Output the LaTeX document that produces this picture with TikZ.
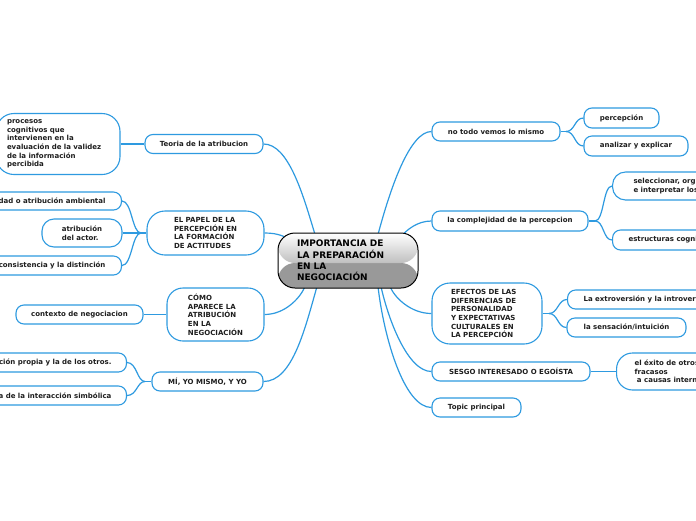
\documentclass[tikz,border=0pt]{standalone}
\usepackage{fontspec}
\setmainfont{DejaVu Sans}
\usetikzlibrary{calc,backgrounds}
\definecolor{mmblue}{HTML}{2E9AE0}
\definecolor{txt}{HTML}{1E1E1E}
\tikzset{
  bx/.style={draw=mmblue, line width=1.1pt, fill=white, rounded corners=8pt, inner sep=0pt,
    text=txt, font=\fontsize{7}{8.7}\selectfont\bfseries, align=center},
  conn/.style={draw=mmblue, line width=1.2pt},
  ctr/.style={draw=black, line width=1pt, rounded corners=17pt, inner sep=0pt,
    text=black, font=\fontsize{9}{11.2}\selectfont\bfseries, align=left,
    path picture={
      \fill[black!40] (path picture bounding box.south west) rectangle ($(path picture bounding box.east)+(0,2.5)$);
      \shade[top color=white, bottom color=black!25] (path picture bounding box.north west) rectangle ($(path picture bounding box.east)+(0,2.5)$);
    }},
}
\begin{document}
\begin{tikzpicture}[x=1pt, y=-1pt]
\useasboundingbox (0,0) rectangle (696,520);

% ---- left side
\node[bx, minimum width=124pt, minimum height=61pt, rounded corners=18pt, text width=102pt, align=left] (P1) at (58,144) {procesos\\cognitivos que\\intervienen en la\\evaluación de la validez\\de la información\\percibida};
\node[bx, minimum width=118pt, minimum height=19pt] (T) at (204,144) {Teoria de la atribucion};
\node[bx, anchor=east, inner xsep=16pt, minimum height=18pt] (A1) at (122,201) {idad o atribución ambiental};
\node[bx, minimum width=80pt, minimum height=28pt, rounded corners=12pt, align=left] (A2) at (82,233) {atribución\\del actor.};
\node[bx, anchor=east, inner xsep=16pt, minimum height=19pt] (A3) at (122,265.5) {consistencia y la distinción};
\node[bx, minimum width=117pt, minimum height=44pt, rounded corners=18pt, align=left] (EP) at (205.5,233) {EL PAPEL DE LA\\PERCEPCIÓN EN\\LA FORMACIÓN\\DE ACTITUDES};
\node[bx, minimum width=127pt, minimum height=19pt] (C1) at (79.5,314.5) {contexto de negociacion};
\node[bx, minimum width=97pt, minimum height=53pt, rounded corners=16pt, align=left] (CO) at (215.5,314.5) {CÓMO\\APARECE LA\\ATRIBUCIÓN\\EN LA\\NEGOCIACIÓN};
\node[bx, anchor=east, inner xsep=15pt, minimum height=19pt] (M1) at (127,362.5) {ción propia y la de los otros.};
\node[bx, anchor=east, inner xsep=15pt, minimum height=19pt] (M2) at (127,395.5) {a de la interacción simbólica};
\node[bx, minimum width=111pt, minimum height=19pt] (MI) at (207.5,381.5) {MÍ, YO MISMO, Y YO};

% ---- right side
\node[bx, minimum width=128pt, minimum height=19pt] (N) at (496,131.5) {no todo vemos lo mismo};
\node[bx, minimum width=75pt, minimum height=20pt] (N1) at (621.5,118) {percepción};
\node[bx, minimum width=104pt, minimum height=20pt] (N2) at (636,146) {analizar y explicar};
\node[bx, minimum width=156pt, minimum height=20pt] (L) at (510,221) {la complejidad de la percepcion};
\node[bx, anchor=west, inner xsep=21pt, minimum height=28pt, rounded corners=13pt, align=left] (L1) at (612,186) {seleccionar, org\\e interpretar los};
\node[bx, anchor=west, inner xsep=16pt, minimum height=20pt] (L2) at (612,240) {estructuras cogni};
\node[bx, minimum width=110pt, minimum height=61pt, rounded corners=18pt, text width=72pt, align=left] (E) at (487,313.5) {EFECTOS DE LAS\\DIFERENCIAS DE\\PERSONALIDAD\\Y EXPECTATIVAS\\CULTURALES EN\\LA PERCEPCIÓN};
\node[bx, anchor=west, inner xsep=16pt, minimum height=19pt] (E1) at (567,299.5) {La extroversión y la introvers};
\node[bx, minimum width=119pt, minimum height=19pt] (E2) at (626.5,327.5) {la sensación/intuición};
\node[bx, minimum width=158pt, minimum height=19pt] (S) at (511,371.5) {SESGO INTERESADO O EGOÍSTA};
\node[bx, anchor=west, inner xsep=18pt, minimum height=37pt, rounded corners=16pt, align=left] (S1) at (616,371.5) {el éxito de otros\\fracasos\\\mbox{}\ a causas intern};
\node[bx, minimum width=89pt, minimum height=19pt] (TP) at (476.5,407.5) {Topic principal};

% ---- central topic
\node[ctr, minimum width=140pt, minimum height=55pt, text width=102pt] (C) at (348,260.5) {IMPORTANCIA DE\\LA PREPARACIÓN\\EN LA\\NEGOCIACIÓN};

% ---- junctions
\coordinate (jEP) at (141,233);
\coordinate (jMI) at (145,381.5);
\coordinate (jN) at (566,131.5);
\coordinate (jL) at (595,221);
\coordinate (jE) at (549,313.5);

\begin{scope}[on background layer]
\fill[white] (0,0) rectangle (696,520);
% main branches
\draw[conn] (T.east) .. controls +(25,0) and +(-12,-40) .. ($(C.north)+(-33,2)$);
\draw[conn] (EP.east) .. controls +(14,0) and +(-10,-6) .. ($(C.center)+(-53,-18)$);
\draw[conn] (CO.east) .. controls +(20,0) and +(-5,12) .. ($(C.south)+(-43,-2)$);
\draw[conn] (MI.east) .. controls +(29,0) and +(-12,42) .. ($(C.south)+(-31,-2)$);
\draw[conn] (N.west) .. controls +(-22,0) and +(12,-45) .. ($(C.north)+(30,2)$);
\draw[conn] (L.west) .. controls +(-14,0) and +(7,-8) .. ($(C.center)+(52,-23)$);
\draw[conn] (E.west) .. controls +(-20,0) and +(5,12) .. ($(C.south)+(42,-2)$);
\draw[conn] (S.west) .. controls +(-24,0) and +(7,32) .. ($(C.south)+(33,-2)$);
\draw[conn] (TP.west) .. controls +(-27,0) and +(6,52) .. ($(C.south)+(30,-2)$);
% sub branches
\draw[conn] (P1.east) -- (T.west);
\draw[conn] (A1.east) .. controls +(10,0) and +(-9,0) .. (jEP);
\draw[conn] (A3.east) .. controls +(10,0) and +(-9,0) .. (jEP);
\draw[conn] (A2.east) -- (EP.west);
\draw[conn] (jEP) -- (EP.west);
\draw[conn] (C1.east) -- (CO.west);
\draw[conn] (M1.east) .. controls +(10,0) and +(-8,0) .. (jMI);
\draw[conn] (M2.east) .. controls +(10,0) and +(-8,0) .. (jMI);
\draw[conn] (jMI) -- (MI.west);
\draw[conn] (N.east) -- (jN);
\draw[conn] (jN) .. controls +(9,0) and +(-9,0) .. (N1.west);
\draw[conn] (jN) .. controls +(9,0) and +(-9,0) .. (N2.west);
\draw[conn] (L.east) -- (jL);
\draw[conn] (jL) .. controls +(9,0) and +(-9,0) .. (L1.west);
\draw[conn] (jL) .. controls +(9,0) and +(-9,0) .. (L2.west);
\draw[conn] (E.east) -- (jE);
\draw[conn] (jE) .. controls +(9,0) and +(-9,0) .. (E1.west);
\draw[conn] (jE) .. controls +(9,0) and +(-9,0) .. (E2.west);
\draw[conn] (S.east) -- (S1.west);
\end{scope}
\end{tikzpicture}
\end{document}
